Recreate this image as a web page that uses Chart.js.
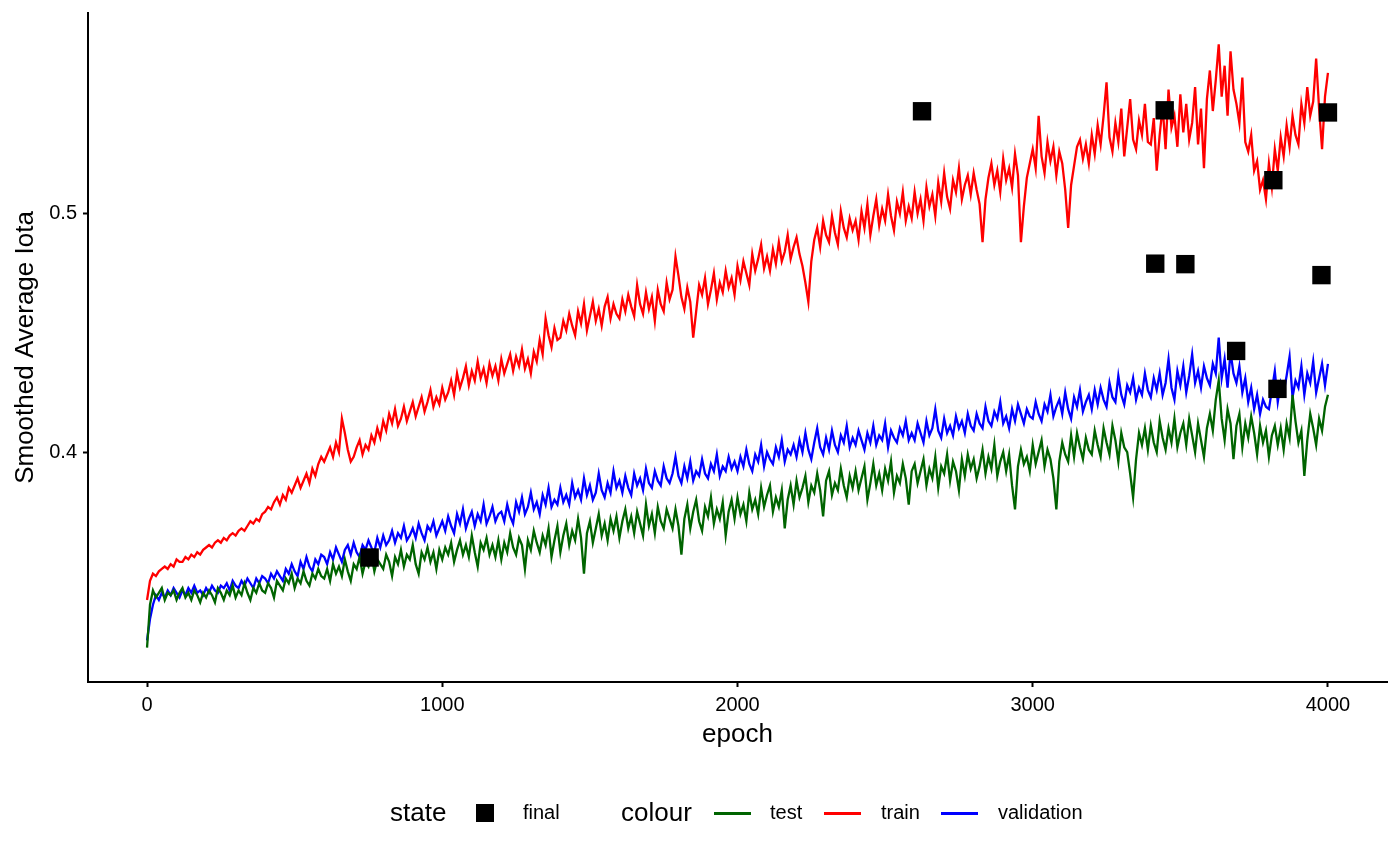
<!DOCTYPE html>
<html>
<head>
<meta charset="utf-8">
<script src="https://cdn.jsdelivr.net/npm/chart.js@4.4.0/dist/chart.umd.min.js"></script>
<style>
  body { margin: 0; background: #fff; }
  #wrap { position: relative; width: 1400px; height: 865px; font-family: "Liberation Sans", Arial, sans-serif; }
  #legend span { position: absolute; white-space: nowrap; color: #000; }
  .ttl { font-size: 26px; top: 797px; }
  .lbl { font-size: 20px; top: 801px; }
  .key { height: 3px; width: 37px; top: 812px; }
</style>
</head>
<body>
<div id="wrap">
  <canvas id="myChart" width="1400" height="865"></canvas>
  <div id="legend">
    <span class="ttl" style="left:390px">state</span>
    <span style="left:476px;top:804px;width:18px;height:18px;background:#000"></span>
    <span class="lbl" style="left:523px">final</span>
    <span class="ttl" style="left:621px">colour</span>
    <span class="key" style="left:714px;background:#006400"></span>
    <span class="lbl" style="left:770px">test</span>
    <span class="key" style="left:824px;background:#ff0000"></span>
    <span class="lbl" style="left:881px">train</span>
    <span class="key" style="left:941px;background:#0000ff"></span>
    <span class="lbl" style="left:998px">validation</span>
  </div>
</div>
<script>
// ******* DATA ******************
// epochs sampled every 10 (0 .. 4000)
let epochs = [];
for (let e = 0; e <= 4000; e += 10) { epochs.push(e); }

// train (red), one row = 200 epochs
let trainIota = [
  0.338, 0.346, 0.349, 0.348, 0.350, 0.351, 0.352, 0.351, 0.353, 0.352, 0.355, 0.354, 0.354, 0.356, 0.355, 0.357, 0.356, 0.358, 0.357, 0.359,
  0.360, 0.361, 0.360, 0.362, 0.363, 0.362, 0.364, 0.363, 0.365, 0.366, 0.365, 0.367, 0.368, 0.367, 0.369, 0.371, 0.370, 0.372, 0.371, 0.374,
  0.375, 0.377, 0.376, 0.379, 0.381, 0.378, 0.382, 0.380, 0.385, 0.383, 0.386, 0.389, 0.385, 0.388, 0.391, 0.387, 0.393, 0.390, 0.395, 0.398,
  0.396, 0.399, 0.402, 0.398, 0.404, 0.400, 0.414, 0.408, 0.401, 0.396, 0.398, 0.402, 0.405, 0.399, 0.403, 0.401, 0.407, 0.404, 0.410, 0.406,
  0.413, 0.409, 0.416, 0.412, 0.418, 0.411, 0.414, 0.419, 0.413, 0.417, 0.421, 0.415, 0.419, 0.423, 0.417, 0.421, 0.426, 0.419, 0.423, 0.420,
  0.427, 0.422, 0.425, 0.430, 0.424, 0.433, 0.427, 0.431, 0.436, 0.428, 0.434, 0.430, 0.438, 0.431, 0.435, 0.429, 0.437, 0.432, 0.436, 0.430,
  0.439, 0.433, 0.437, 0.441, 0.434, 0.440, 0.436, 0.443, 0.435, 0.439, 0.433, 0.442, 0.438, 0.447, 0.441, 0.456, 0.449, 0.444, 0.452, 0.447,
  0.448, 0.455, 0.451, 0.458, 0.453, 0.449, 0.459, 0.454, 0.462, 0.451, 0.457, 0.463, 0.455, 0.460, 0.453, 0.461, 0.465, 0.456, 0.462, 0.458,
  0.456, 0.464, 0.459, 0.466, 0.461, 0.457, 0.470, 0.462, 0.458, 0.467, 0.460, 0.465, 0.455, 0.468, 0.462, 0.459, 0.471, 0.464, 0.468, 0.482,
  0.474, 0.465, 0.460, 0.469, 0.463, 0.448, 0.459, 0.470, 0.466, 0.473, 0.462, 0.468, 0.475, 0.464, 0.471, 0.467, 0.476, 0.469, 0.473, 0.466,
  0.478, 0.472, 0.480, 0.475, 0.470, 0.483, 0.476, 0.481, 0.487, 0.477, 0.482, 0.476, 0.485, 0.479, 0.488, 0.480, 0.484, 0.491, 0.481, 0.486,
  0.490, 0.483, 0.478, 0.471, 0.463, 0.480, 0.489, 0.494, 0.486, 0.497, 0.491, 0.488, 0.499, 0.492, 0.487, 0.501, 0.494, 0.490, 0.498, 0.493,
  0.497, 0.489, 0.501, 0.494, 0.504, 0.491, 0.499, 0.506, 0.495, 0.502, 0.497, 0.508, 0.499, 0.493, 0.505, 0.500, 0.509, 0.497, 0.503, 0.498,
  0.509, 0.500, 0.506, 0.497, 0.511, 0.503, 0.508, 0.499, 0.513, 0.505, 0.517, 0.507, 0.502, 0.514, 0.509, 0.519, 0.506, 0.512, 0.516, 0.508,
  0.517, 0.510, 0.504, 0.488, 0.506, 0.515, 0.521, 0.512, 0.518, 0.509, 0.523, 0.514, 0.519, 0.511, 0.525, 0.516, 0.488, 0.503, 0.515, 0.521,
  0.527, 0.519, 0.541, 0.524, 0.517, 0.530, 0.522, 0.528, 0.516, 0.526, 0.521, 0.510, 0.494, 0.512, 0.520, 0.528, 0.531, 0.523, 0.529, 0.521,
  0.533, 0.525, 0.537, 0.529, 0.541, 0.555, 0.532, 0.526, 0.538, 0.530, 0.544, 0.524, 0.536, 0.548, 0.531, 0.527, 0.539, 0.533, 0.546, 0.530,
  0.529, 0.540, 0.518, 0.533, 0.545, 0.527, 0.552, 0.536, 0.541, 0.528, 0.550, 0.534, 0.546, 0.531, 0.538, 0.553, 0.529, 0.544, 0.519, 0.548,
  0.560, 0.543, 0.556, 0.571, 0.549, 0.562, 0.541, 0.568, 0.552, 0.546, 0.538, 0.557, 0.530, 0.526, 0.533, 0.518, 0.522, 0.510, 0.514, 0.506,
  0.521, 0.511, 0.527, 0.518, 0.532, 0.524, 0.537, 0.528, 0.541, 0.533, 0.529, 0.546, 0.538, 0.553, 0.541, 0.547, 0.565, 0.544, 0.527, 0.549,
  0.559
];

// validation (blue)
let validationIota = [
  0.321, 0.330, 0.336, 0.340, 0.338, 0.341, 0.339, 0.342, 0.340, 0.343, 0.341, 0.339, 0.342, 0.340, 0.343, 0.341, 0.344, 0.341, 0.342, 0.340,
  0.343, 0.341, 0.344, 0.342, 0.341, 0.344, 0.343, 0.345, 0.342, 0.346, 0.344, 0.343, 0.346, 0.344, 0.347, 0.345, 0.343, 0.347, 0.345, 0.348,
  0.347, 0.345, 0.349, 0.347, 0.350, 0.348, 0.346, 0.351, 0.349, 0.353, 0.350, 0.348, 0.354, 0.351, 0.356, 0.352, 0.350, 0.355, 0.353, 0.357,
  0.356, 0.353, 0.358, 0.355, 0.360, 0.357, 0.354, 0.359, 0.361, 0.357, 0.362, 0.358, 0.356, 0.361, 0.359, 0.363, 0.360, 0.358, 0.364, 0.360,
  0.365, 0.361, 0.363, 0.367, 0.362, 0.366, 0.364, 0.369, 0.363, 0.365, 0.368, 0.364, 0.370, 0.366, 0.363, 0.369, 0.367, 0.371, 0.365, 0.368,
  0.371, 0.367, 0.373, 0.369, 0.366, 0.374, 0.370, 0.376, 0.368, 0.372, 0.375, 0.369, 0.374, 0.371, 0.378, 0.370, 0.373, 0.377, 0.371, 0.374,
  0.375, 0.371, 0.378, 0.373, 0.370, 0.379, 0.375, 0.381, 0.374, 0.377, 0.383, 0.376, 0.379, 0.374, 0.382, 0.378, 0.385, 0.377, 0.380, 0.378,
  0.385, 0.379, 0.382, 0.378, 0.387, 0.381, 0.384, 0.380, 0.389, 0.382, 0.386, 0.380, 0.383, 0.391, 0.384, 0.381, 0.387, 0.383, 0.392, 0.385,
  0.388, 0.383, 0.390, 0.385, 0.382, 0.391, 0.386, 0.389, 0.384, 0.393, 0.387, 0.385, 0.392, 0.388, 0.386, 0.394, 0.389, 0.387, 0.391, 0.398,
  0.390, 0.387, 0.394, 0.389, 0.396, 0.388, 0.392, 0.390, 0.397, 0.391, 0.389, 0.395, 0.392, 0.399, 0.390, 0.394, 0.392, 0.398, 0.393, 0.396,
  0.392, 0.398, 0.394, 0.401, 0.395, 0.392, 0.399, 0.396, 0.403, 0.394, 0.400, 0.397, 0.395, 0.402, 0.398, 0.405, 0.396, 0.401, 0.399, 0.403,
  0.398, 0.405, 0.400, 0.408, 0.401, 0.397, 0.404, 0.410, 0.402, 0.399, 0.406, 0.401, 0.409, 0.403, 0.400, 0.407, 0.404, 0.411, 0.402, 0.406,
  0.403, 0.409, 0.405, 0.401, 0.408, 0.404, 0.411, 0.403, 0.407, 0.405, 0.412, 0.402, 0.409, 0.406, 0.404, 0.410, 0.407, 0.413, 0.405, 0.408,
  0.405, 0.412, 0.408, 0.404, 0.413, 0.407, 0.410, 0.418, 0.409, 0.406, 0.414, 0.408, 0.411, 0.407, 0.415, 0.410, 0.413, 0.408, 0.416, 0.411,
  0.409, 0.416, 0.412, 0.410, 0.419, 0.413, 0.411, 0.417, 0.414, 0.421, 0.412, 0.415, 0.410, 0.418, 0.413, 0.420, 0.416, 0.412, 0.418, 0.415,
  0.414, 0.421, 0.416, 0.413, 0.420, 0.417, 0.424, 0.415, 0.419, 0.422, 0.416, 0.425, 0.418, 0.414, 0.423, 0.419, 0.426, 0.417, 0.421, 0.424,
  0.418, 0.426, 0.420, 0.427, 0.422, 0.419, 0.429, 0.423, 0.421, 0.432, 0.424, 0.420, 0.428, 0.425, 0.431, 0.422, 0.427, 0.424, 0.433, 0.426,
  0.423, 0.431, 0.426, 0.433, 0.424, 0.429, 0.439, 0.427, 0.422, 0.434, 0.428, 0.436, 0.425, 0.432, 0.441, 0.429, 0.434, 0.427, 0.436, 0.431,
  0.428, 0.437, 0.433, 0.448, 0.431, 0.439, 0.427, 0.442, 0.433, 0.429, 0.436, 0.425, 0.431, 0.421, 0.427, 0.418, 0.424, 0.416, 0.422, 0.419,
  0.418, 0.426, 0.434, 0.421, 0.429, 0.425, 0.432, 0.440, 0.423, 0.430, 0.427, 0.436, 0.424, 0.433, 0.429, 0.438, 0.425, 0.431, 0.437, 0.428,
  0.437
];

// test (dark green)
let testIota = [
  0.318, 0.336, 0.342, 0.339, 0.341, 0.343, 0.338, 0.341, 0.340, 0.342, 0.338, 0.341, 0.343, 0.339, 0.341, 0.338, 0.342, 0.340, 0.337, 0.341,
  0.339, 0.342, 0.340, 0.337, 0.343, 0.341, 0.338, 0.342, 0.340, 0.344, 0.339, 0.342, 0.340, 0.345, 0.341, 0.338, 0.343, 0.341, 0.345, 0.342,
  0.341, 0.345, 0.343, 0.339, 0.346, 0.344, 0.342, 0.347, 0.345, 0.349, 0.343, 0.347, 0.345, 0.350, 0.346, 0.344, 0.349, 0.347, 0.351, 0.348,
  0.347, 0.351, 0.346, 0.353, 0.349, 0.352, 0.348, 0.355, 0.350, 0.346, 0.353, 0.351, 0.356, 0.349, 0.354, 0.352, 0.357, 0.350, 0.355, 0.353,
  0.351, 0.357, 0.354, 0.348, 0.356, 0.353, 0.359, 0.352, 0.357, 0.355, 0.361, 0.353, 0.349, 0.358, 0.355, 0.360, 0.354, 0.358, 0.351, 0.359,
  0.355, 0.360, 0.357, 0.362, 0.354, 0.359, 0.363, 0.357, 0.361, 0.356, 0.365, 0.358, 0.352, 0.362, 0.359, 0.364, 0.357, 0.361, 0.356, 0.363,
  0.355, 0.362, 0.358, 0.366, 0.360, 0.357, 0.364, 0.361, 0.351, 0.363, 0.359, 0.367, 0.362, 0.358, 0.365, 0.361, 0.368, 0.356, 0.363, 0.369,
  0.358, 0.365, 0.370, 0.361, 0.367, 0.363, 0.372, 0.364, 0.349, 0.366, 0.371, 0.362, 0.368, 0.374, 0.365, 0.370, 0.363, 0.372, 0.367, 0.373,
  0.364, 0.371, 0.376, 0.368, 0.373, 0.366, 0.375, 0.370, 0.365, 0.378, 0.369, 0.374, 0.366, 0.377, 0.371, 0.368, 0.376, 0.372, 0.368, 0.376,
  0.369, 0.357, 0.372, 0.378, 0.368, 0.375, 0.380, 0.371, 0.367, 0.377, 0.373, 0.381, 0.370, 0.376, 0.372, 0.379, 0.365, 0.375, 0.380, 0.372,
  0.381, 0.374, 0.378, 0.371, 0.383, 0.376, 0.380, 0.374, 0.385, 0.377, 0.382, 0.386, 0.375, 0.381, 0.377, 0.384, 0.368, 0.380, 0.386, 0.378,
  0.388, 0.381, 0.385, 0.390, 0.379, 0.386, 0.383, 0.391, 0.384, 0.373, 0.388, 0.392, 0.382, 0.387, 0.384, 0.393, 0.386, 0.381, 0.390, 0.385,
  0.392, 0.384, 0.389, 0.394, 0.380, 0.387, 0.395, 0.386, 0.391, 0.384, 0.393, 0.388, 0.396, 0.383, 0.390, 0.387, 0.395, 0.389, 0.378, 0.392,
  0.395, 0.387, 0.392, 0.397, 0.386, 0.393, 0.389, 0.398, 0.385, 0.394, 0.391, 0.399, 0.388, 0.396, 0.392, 0.384, 0.397, 0.390, 0.399, 0.393,
  0.397, 0.389, 0.394, 0.401, 0.391, 0.398, 0.393, 0.403, 0.390, 0.396, 0.400, 0.392, 0.399, 0.386, 0.376, 0.394, 0.401, 0.395, 0.398, 0.392,
  0.403, 0.395, 0.400, 0.405, 0.394, 0.401, 0.397, 0.389, 0.376, 0.396, 0.404, 0.399, 0.396, 0.407, 0.398, 0.408, 0.402, 0.397, 0.406, 0.401,
  0.399, 0.409, 0.403, 0.398, 0.410, 0.404, 0.399, 0.411, 0.405, 0.396, 0.408, 0.402, 0.400, 0.391, 0.381, 0.397, 0.408, 0.403, 0.410, 0.401,
  0.411, 0.404, 0.400, 0.413, 0.406, 0.401, 0.410, 0.404, 0.414, 0.402, 0.408, 0.412, 0.403, 0.414, 0.407, 0.400, 0.412, 0.405, 0.398, 0.410,
  0.416, 0.409, 0.422, 0.430, 0.414, 0.405, 0.418, 0.412, 0.397, 0.411, 0.416, 0.402, 0.412, 0.406, 0.415, 0.408, 0.399, 0.411, 0.404, 0.409,
  0.398, 0.407, 0.411, 0.403, 0.410, 0.401, 0.412, 0.406, 0.424, 0.413, 0.404, 0.409, 0.390, 0.405, 0.416, 0.410, 0.403, 0.414, 0.409, 0.419,
  0.424
];

// the black squares ("final" state)
let finalEpoch = [754, 2625, 3415, 3447, 3517, 3689, 3815, 3829, 3978, 4000];
let finalIota  = [0.3558, 0.5429, 0.4790, 0.5433, 0.4788, 0.4424, 0.5140, 0.4265, 0.4742, 0.5424];

let xTicks = [0, 1000, 2000, 3000, 4000];
let yTicks = [0.4, 0.5];

let testColor = '#006400';
let trainColor = '#ff0000';
let validationColor = '#0000ff';


//////////////////////////////////////////////////////////////////////////////////////
// build chart
//////////////////////////////////////////////////////////////////////////////////////
function makeChart(){

  let finalPoints = [];
  for (let i = 0; i < finalEpoch.length; i++) {
    finalPoints.push({ x: finalEpoch[i], y: finalIota[i] });
  }

  const axisFont = { family: 'Liberation Sans', size: 20 };
  const titleFont = { family: 'Liberation Sans', size: 26 };

  const data = {
    labels: epochs,
    datasets: [
      {
        type: 'scatter',
        label: 'final',
        data: finalPoints,
        pointStyle: 'rect',
        pointRadius: 13,
        backgroundColor: '#000',
        borderColor: '#000',
        borderWidth: 0,
        order: 0
      },
      {
        label: 'test',
        data: testIota,
        borderColor: testColor,
        borderWidth: 2.3,
        pointRadius: 0,
        order: 1
      },
      {
        label: 'train',
        data: trainIota,
        borderColor: trainColor,
        borderWidth: 2.3,
        pointRadius: 0,
        order: 2
      },
      {
        label: 'validation',
        data: validationIota,
        borderColor: validationColor,
        borderWidth: 2.3,
        pointRadius: 0,
        order: 3
      }
    ]
  };

  const config = {
    type: 'line',
    data: data,
    options: {
      responsive: false,
      animation: false,
      layout: { padding: { left: 0, right: 13, top: 13, bottom: 103 } },
      plugins: { legend: { display: false }, tooltip: { enabled: false } },
      elements: { line: { tension: 0 } },
      scales: {
        x: {
          type: 'linear',
          min: -200,
          max: 4200,
          afterBuildTicks: (s) => { s.ticks = xTicks.map(v => ({ value: v })); },
          afterFit: (s) => { s.height = 80; s.paddingLeft = 0; s.paddingRight = 0; },
          ticks: { color: '#000', font: axisFont, padding: 6, maxRotation: 0, callback: (v) => String(v) },
          grid: { drawOnChartArea: false, drawTicks: true, tickLength: 5, tickColor: '#000', tickWidth: 2 },
          border: { color: '#000', width: 2 },
          title: { display: true, text: 'epoch', color: '#000', font: titleFont, padding: { top: 0, bottom: 12 } }
        },
        y: {
          min: 0.3036,
          max: 0.5841,
          afterBuildTicks: (s) => { s.ticks = yTicks.map(v => ({ value: v })); },
          afterFit: (s) => { s.width = 88; s.paddingTop = 0; s.paddingBottom = 0; },
          ticks: { color: '#000', font: axisFont, padding: 6, callback: (v) => v.toFixed(1) },
          grid: { drawOnChartArea: false, drawTicks: true, tickLength: 5, tickColor: '#000', tickWidth: 2 },
          border: { color: '#000', width: 2 },
          title: { display: true, text: 'Smoothed Average Iota', color: '#000', font: titleFont, padding: { top: 10, bottom: 0 } }
        }
      }
    }
  };

  let canvasChart = document.getElementById('myChart');
  const myChart = new Chart(canvasChart, config);
}

makeChart();
</script>
</body>
</html>
